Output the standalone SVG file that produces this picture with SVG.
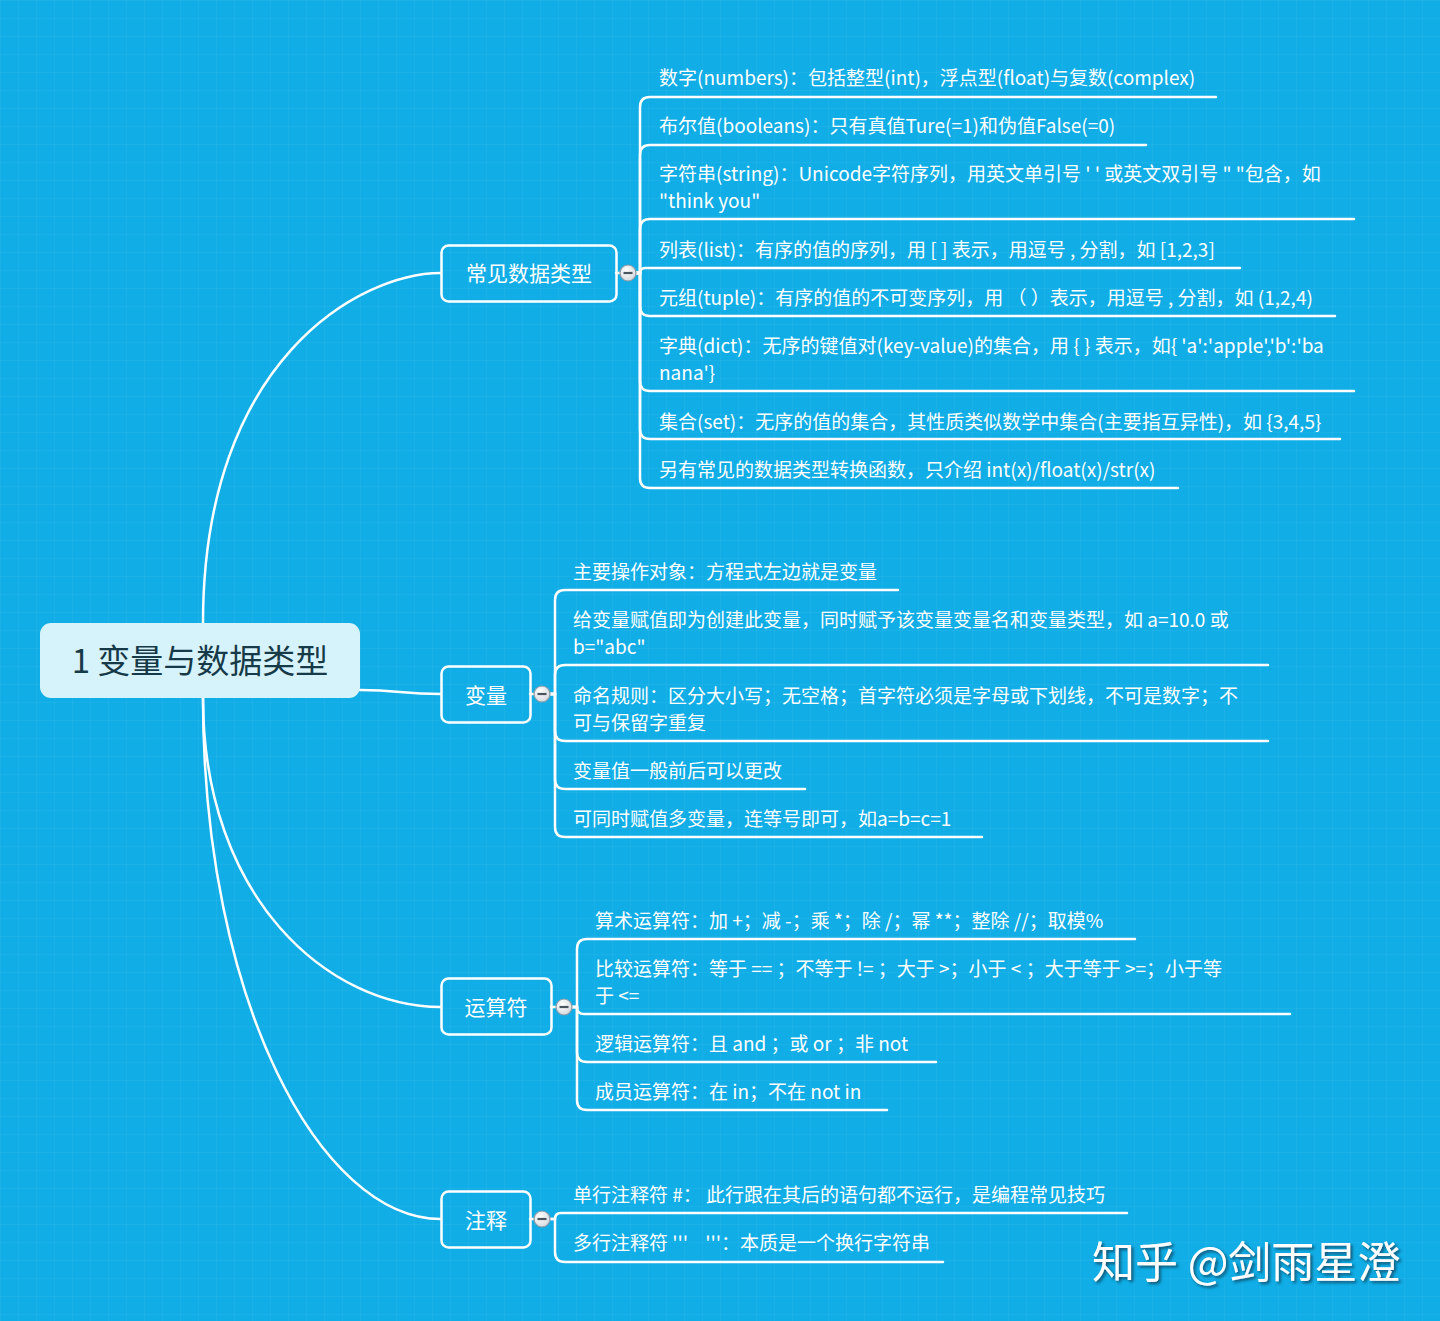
<svg xmlns="http://www.w3.org/2000/svg" width="1440" height="1321" viewBox="0 0 1440 1321">
<defs>
<pattern id="grid" width="18" height="18" patternUnits="userSpaceOnUse">
<path d="M18 0H0V18" fill="none" stroke="#ffffff" stroke-opacity="0.09" stroke-width="1"/>
</pattern>
<radialGradient id="btn" cx="0.4" cy="0.35" r="0.7">
<stop offset="0" stop-color="#ffffff"/>
<stop offset="1" stop-color="#d4d8dc"/>
</radialGradient>
<filter id="shadow" x="-5%" y="-20%" width="110%" height="140%">
<feDropShadow dx="2" dy="2" stdDeviation="1.5" flood-color="#0a3a55" flood-opacity="0.8"/>
</filter>
</defs>
<style>
text{font-family:"Noto Sans CJK SC","Noto Sans",sans-serif;}
.leaf{font-size:19px;fill:#ffffff;white-space:pre;}
.branch{font-size:21px;fill:#ffffff;text-anchor:middle;}
.bnode{fill:none;stroke:#ffffff;stroke-width:2.5;}
.conn path{fill:none;stroke:#ffffff;stroke-width:2.5;stroke-linecap:round;}
.btn circle{fill:url(#btn);stroke:#8a9aa6;stroke-width:1.2;}
.btn line{stroke:#4a5560;stroke-width:2.2;}
</style>
<rect width="1440" height="1321" fill="#10ade6"/>
<rect width="1440" height="1321" fill="url(#grid)"/>

<g id="connectors" class="conn">
<path d="M203,623 C203,360 360,273 441,273"/>
<path d="M360,690 C400,690 400,694 441,694"/>
<path d="M203,698 C203,900 330,1007 441,1007"/>
<path d="M203,698 C203,1000 320,1219 441,1219"/>
<path d="M616,273 H620"/>
<path d="M530,694 H534"/>
<path d="M551,1007 H556"/>
<path d="M530,1219 H534"/>
<path d="M636,273 H640 V107 Q640,97 650,97 H1216"/>
<path d="M636,273 H640 V155 Q640,145 650,145 H1146"/>
<path d="M636,273 H640 V229 Q640,219 650,219 H1354"/>
<path d="M636,273 H640 Q640,268 645,268 H1240"/>
<path d="M636,273 H640 V306 Q640,316 650,316 H1335"/>
<path d="M636,273 H640 V381 Q640,391 650,391 H1354"/>
<path d="M636,273 H640 V429 Q640,439 650,439 H1340"/>
<path d="M636,273 H640 V478 Q640,488 650,488 H1178"/>
<path d="M550,694 H555 V600 Q555,590 565,590 H898"/>
<path d="M550,694 H555 V675 Q555,665 565,665 H1268"/>
<path d="M550,694 H555 V731 Q555,741 565,741 H1268"/>
<path d="M550,694 H555 V779 Q555,789 565,789 H805"/>
<path d="M550,694 H555 V827 Q555,837 565,837 H982"/>
<path d="M572,1007 H577 V949 Q577,939 587,939 H1135"/>
<path d="M572,1007 H577 Q577,1014 584,1014 H1290"/>
<path d="M572,1007 H577 V1052 Q577,1062 587,1062 H936"/>
<path d="M572,1007 H577 V1100 Q577,1110 587,1110 H887"/>
<path d="M550,1219 H555 Q555,1213 561,1213 H1127"/>
<path d="M550,1219 H555 V1252 Q555,1262 565,1262 H943"/>
</g>

<g id="root">
<rect x="40" y="623" width="320" height="75" rx="11" fill="#d6f3fc"/>
<text x="200" y="673" font-size="33" fill="#173a48" text-anchor="middle">1 变量与数据类型</text>
</g>

<g id="node-types">
<rect class="bnode" x="441.5" y="245.5" width="175" height="56" rx="7"/>
<text class="branch" x="529" y="281">常见数据类型</text>
<g class="btn"><circle cx="628" cy="273" r="8"/><line x1="623.5" y1="273" x2="632.5" y2="273"/></g>
</g>
<g id="leaf-numbers"><text class="leaf" x="659" y="85">数字(numbers)：包括整型(int)，浮点型(float)与复数(complex)</text></g>
<g id="leaf-booleans"><text class="leaf" x="659" y="133">布尔值(booleans)：只有真值Ture(=1)和伪值False(=0)</text></g>
<g id="leaf-string"><text class="leaf" x="659" y="181">字符串(string)：Unicode字符序列，用英文单引号 ' ' 或英文双引号 " "包含，如</text><text class="leaf" x="659" y="208">"think you"</text></g>
<g id="leaf-list"><text class="leaf" x="659" y="257">列表(list)：有序的值的序列，用 [ ] 表示，用逗号 , 分割，如 [1,2,3]</text></g>
<g id="leaf-tuple"><text class="leaf" x="659" y="305">元组(tuple)：有序的值的不可变序列，用 （ ）表示，用逗号 , 分割，如 (1,2,4)</text></g>
<g id="leaf-dict"><text class="leaf" x="659" y="353">字典(dict)：无序的键值对(key-value)的集合，用 { } 表示，如{ 'a':'apple','b':'ba</text><text class="leaf" x="659" y="380">nana'}</text></g>
<g id="leaf-set"><text class="leaf" x="659" y="429">集合(set)：无序的值的集合，其性质类似数学中集合(主要指互异性)，如 {3,4,5}</text></g>
<g id="leaf-convert"><text class="leaf" x="659" y="477">另有常见的数据类型转换函数，只介绍 int(x)/float(x)/str(x)</text></g>

<g id="node-var">
<rect class="bnode" x="441.5" y="666.5" width="89" height="56" rx="7"/>
<text class="branch" x="486" y="703">变量</text>
<g class="btn"><circle cx="542" cy="694" r="8"/><line x1="537.5" y1="694" x2="546.5" y2="694"/></g>
</g>
<g id="leaf-var1"><text class="leaf" x="573" y="579">主要操作对象：方程式左边就是变量</text></g>
<g id="leaf-var2"><text class="leaf" x="573" y="627">给变量赋值即为创建此变量，同时赋予该变量变量名和变量类型，如 a=10.0 或</text><text class="leaf" x="573" y="654">b="abc"</text></g>
<g id="leaf-var3"><text class="leaf" x="573" y="703">命名规则：区分大小写；无空格；首字符必须是字母或下划线，不可是数字；不</text><text class="leaf" x="573" y="730">可与保留字重复</text></g>
<g id="leaf-var4"><text class="leaf" x="573" y="778">变量值一般前后可以更改</text></g>
<g id="leaf-var5"><text class="leaf" x="573" y="826">可同时赋值多变量，连等号即可，如a=b=c=1</text></g>

<g id="node-ops">
<rect class="bnode" x="441.5" y="978.5" width="110" height="56" rx="7"/>
<text class="branch" x="496" y="1015">运算符</text>
<g class="btn"><circle cx="564" cy="1007" r="8"/><line x1="559.5" y1="1007" x2="568.5" y2="1007"/></g>
</g>
<g id="leaf-op1"><text class="leaf" x="595" y="928">算术运算符：加 +；减 -；乘 *；除 /；幂 **；整除 //；取模%</text></g>
<g id="leaf-op2"><text class="leaf" x="595" y="976">比较运算符：等于 == ；不等于 != ；大于 &gt;；小于 &lt; ；大于等于 &gt;=；小于等</text><text class="leaf" x="595" y="1003">于 &lt;=</text></g>
<g id="leaf-op3"><text class="leaf" x="595" y="1051">逻辑运算符：且 and ；或 or ；非 not</text></g>
<g id="leaf-op4"><text class="leaf" x="595" y="1099">成员运算符：在 in；不在 not in</text></g>

<g id="node-comment">
<rect class="bnode" x="441.5" y="1191.5" width="89" height="56" rx="7"/>
<text class="branch" x="486" y="1228">注释</text>
<g class="btn"><circle cx="542" cy="1219" r="8"/><line x1="537.5" y1="1219" x2="546.5" y2="1219"/></g>
</g>
<g id="leaf-c1"><text class="leaf" x="573" y="1202">单行注释符 #： 此行跟在其后的语句都不运行，是编程常见技巧</text></g>
<g id="leaf-c2"><text class="leaf" x="573" y="1250">多行注释符 '''    '''：本质是一个换行字符串</text></g>

<text x="1092" y="1278" font-size="43" fill="#ffffff" filter="url(#shadow)">知乎 @剑雨星澄</text>
</svg>
